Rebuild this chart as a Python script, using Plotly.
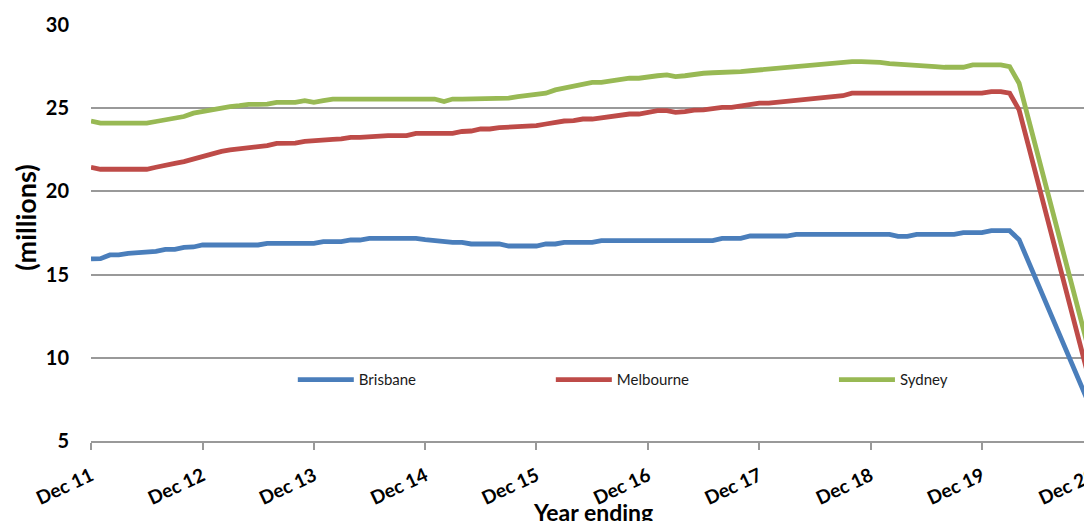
import pandas as pd
import plotly.graph_objects as go

months = pd.date_range("2011-12-01", "2020-12-01", freq="MS")

brisbane = [
    15.94, 15.96, 16.18, 16.18, 16.28, 16.3, 16.38, 16.4, 16.52, 16.52, 16.64, 16.66,
    16.78, 16.78, 16.78, 16.78, 16.78, 16.78, 16.78, 16.88, 16.88, 16.88, 16.88, 16.88,
    16.88, 16.98, 16.98, 16.98, 17.08, 17.08, 17.18, 17.18, 17.18, 17.18, 17.18, 17.18,
    17.1, 17.04, 16.95, 16.94, 16.94, 16.84, 16.84, 16.84, 16.84, 16.72, 16.72, 16.72,
    16.72, 16.84, 16.84, 16.94, 16.94, 16.94, 16.94, 17.04, 17.04, 17.04, 17.04, 17.04,
    17.04, 17.04, 17.04, 17.04, 17.04, 17.04, 17.04, 17.04, 17.18, 17.18, 17.18, 17.32,
    17.32, 17.32, 17.32, 17.32, 17.42, 17.42, 17.42, 17.42, 17.42, 17.42, 17.42, 17.42,
    17.42, 17.42, 17.42, 17.3, 17.3, 17.42, 17.42, 17.42, 17.42, 17.42, 17.52, 17.52,
    17.52, 17.64, 17.64, 17.64, 17.1, 15.8, 14.5, 13.2, 11.85, 10.5, 9.2, 7.9,
    6.6,
]

melbourne = [
    21.45, 21.33, 21.33, 21.33, 21.33, 21.33, 21.33, 21.45, 21.59, 21.69, 21.79, 21.95,
    22.13, 22.3, 22.4, 22.49, 22.55, 22.65, 22.65, 22.75, 22.89, 22.89, 22.9, 23.0,
    23.05, 23.13, 23.13, 23.15, 23.25, 23.25, 23.3, 23.35, 23.35, 23.35, 23.35, 23.49,
    23.49, 23.49, 23.49, 23.49, 23.6, 23.63, 23.75, 23.75, 23.83, 23.85, 23.93, 23.93,
    23.95, 24.05, 24.15, 24.23, 24.25, 24.35, 24.35, 24.43, 24.45, 24.55, 24.65, 24.65,
    24.75, 24.85, 24.85, 24.75, 24.8, 24.89, 24.9, 25.0, 25.05, 25.05, 25.15, 25.25,
    25.3, 25.3, 25.35, 25.45, 25.5, 25.53, 25.6, 25.65, 25.69, 25.75, 25.9, 25.9,
    25.9, 25.9, 25.9, 25.9, 25.9, 25.9, 25.9, 25.9, 25.9, 25.9, 25.9, 25.9,
    25.9, 26.0, 26.0, 25.9, 24.9, 22.8, 20.6, 18.4, 16.2, 14.0, 11.9, 9.8,
    7.7,
]

sydney = [
    24.23, 24.1, 24.1, 24.1, 24.1, 24.1, 24.1, 24.2, 24.3, 24.4, 24.5, 24.7,
    24.8, 24.95, 25.0, 25.1, 25.15, 25.23, 25.23, 25.25, 25.35, 25.35, 25.35, 25.45,
    25.35, 25.45, 25.55, 25.55, 25.55, 25.55, 25.55, 25.55, 25.55, 25.55, 25.55, 25.55,
    25.55, 25.55, 25.4, 25.55, 25.55, 25.55, 25.55, 25.55, 25.6, 25.6, 25.7, 25.75,
    25.85, 25.9, 26.1, 26.2, 26.35, 26.45, 26.55, 26.55, 26.65, 26.7, 26.8, 26.8,
    26.9, 26.95, 27.0, 26.9, 26.95, 27.05, 27.1, 27.13, 27.13, 27.13, 27.2, 27.25,
    27.3, 27.35, 27.4, 27.5, 27.55, 27.6, 27.6, 27.65, 27.73, 27.78, 27.8, 27.8,
    27.8, 27.75, 27.68, 27.66, 27.6, 27.55, 27.55, 27.5, 27.46, 27.46, 27.46, 27.6,
    27.6, 27.6, 27.6, 27.5, 26.5, 24.4, 22.2, 20.0, 17.8, 15.7, 13.6, 11.5,
    9.4,
]

series_names = ["Brisbane", "Melbourne", "Sydney"]
series_values = [brisbane, melbourne, sydney]
series_colors = ["#4A7EBB", "#BE4B48", "#98B954"]
legend_ids = ["legend", "legend2", "legend3"]
legend_x = [0.201, 0.458, 0.740]

y_ticks = [5, 10, 15, 20, 25, 30]

FONT = "Lato, 'Open Sans', sans-serif"

fig = go.Figure()
for name, vals, col, lg in zip(series_names, series_values, series_colors, legend_ids):
    fig.add_trace(go.Scatter(
        x=months, y=vals, mode="lines", name=name, showlegend=True,
        line=dict(color=col, width=4.8), legend=lg,
    ))

legend_common = dict(
    orientation="h", yanchor="middle", y=0.147, xanchor="left",
    font=dict(family=FONT, size=15, color="#1a1a1a"),
    bgcolor="rgba(0,0,0,0)", itemwidth=56, visible=True,
)
fig.update_layout(
    width=1100, height=521,
    margin=dict(l=91, r=5, t=25, b=80, autoexpand=False),
    paper_bgcolor="white", plot_bgcolor="white",
    font=dict(family=FONT, color="black"),
    showlegend=True,
    legend=dict(x=legend_x[0], **legend_common),
    legend2=dict(x=legend_x[1], **legend_common),
    legend3=dict(x=legend_x[2], **legend_common),
    annotations=[
        dict(
            text="<b>(millions)</b>", textangle=-90, showarrow=False,
            xref="paper", yref="paper", x=-0.066, y=0.536,
            xanchor="center", yanchor="middle",
            font=dict(family=FONT, size=27, color="black"),
        ),
        dict(
            text="<b>Year ending</b>", showarrow=False,
            xref="paper", yref="paper", x=0.5, y=-0.132,
            xanchor="center", yanchor="top",
            font=dict(family=FONT, size=23, color="black"),
        ),
    ],
)
fig.update_xaxes(
    range=["2011-12-01", "2020-12-06"], automargin=False,
    tick0="2011-12-01", dtick="M12", tickformat="Dec %y",
    tickangle=-25, ticks="outside", ticklen=7, tickcolor="#999999", tickwidth=1.5,
    showline=True, linecolor="#999999", linewidth=1.5,
    showgrid=False, zeroline=False,
    ticklabelstandoff=8,
    tickfont=dict(family=FONT, size=19, color="black", weight="bold"),
)
fig.update_yaxes(
    range=[5, 30], tickvals=y_ticks, automargin=False,
    showgrid=True, gridcolor="#999999", gridwidth=1.5,
    showline=False, zeroline=False, ticks="",
    ticklabelstandoff=21,
    tickfont=dict(family=FONT, size=20, color="black", weight="bold"),
)

fig.write_html(
    "out.html",
    config={"displayModeBar": False},
    post_script="document.body.style.margin='0';document.body.style.overflow='hidden';",
)
